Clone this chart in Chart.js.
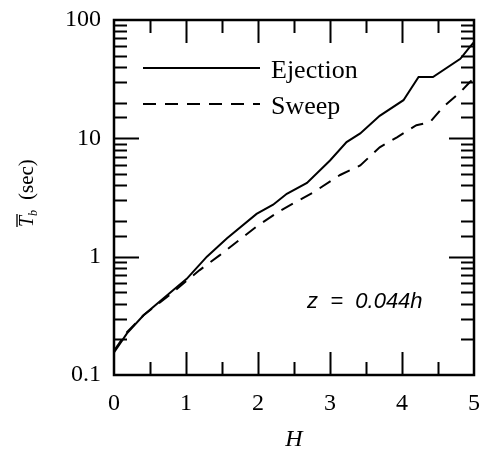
<!DOCTYPE html>
<html><head><meta charset="utf-8">
<style>html,body{margin:0;padding:0;background:#fff}#wrap{width:480px;height:450px}</style>
</head><body><div id="wrap"><canvas id="c" width="480" height="450"></canvas></div>
<script src="https://cdn.jsdelivr.net/npm/chart.js@4"></script>
<script>
// ---- data ----
const H_EJECTION = [0, 0.18, 0.41, 0.82, 1.01, 1.29, 1.57, 1.98, 2.21, 2.40, 2.68, 3.00, 3.23, 3.42, 3.69, 4.02, 4.23, 4.43, 4.81, 4.94, 5.00];
const T_EJECTION = [0.155, 0.225, 0.32, 0.52, 0.65, 1.0, 1.43, 2.3, 2.75, 3.4, 4.2, 6.5, 9.3, 11, 15.5, 21, 33, 33, 47, 59, 65];
const H_SWEEP = [0, 0.18, 0.41, 0.82, 1.00, 1.19, 1.47, 1.98, 2.31, 2.77, 3.14, 3.42, 3.69, 3.93, 4.20, 4.39, 4.57, 4.81, 4.94, 5.00];
const T_SWEEP = [0.16, 0.23, 0.32, 0.5, 0.62, 0.77, 1.03, 1.8, 2.45, 3.5, 4.9, 5.9, 8.4, 10.2, 12.9, 13.7, 18.4, 24.6, 29.8, 32];
const SERIES_LABELS = ['Ejection', 'Sweep'];
const X_TICKS = [0, 1, 2, 3, 4, 5];
const Y_TICK_LABELS = ['0.1', '1', '10', '100'];
const ANNOTATION = 'z  =  0.044h';

const toPts = (xs, ys) => xs.map((x, i) => ({x, y: ys[i]}));
const SERIF = '"Liberation Serif", "Times New Roman", serif';

const decoPlugin = {
  id: 'deco',
  afterDraw(chart) {
    const ctx = chart.ctx, ca = chart.chartArea;
    const xs = chart.scales.x, ys = chart.scales.y;
    ctx.save();
    ctx.strokeStyle = '#000'; ctx.fillStyle = '#000';
    // frame
    ctx.lineWidth = 2.5;
    ctx.strokeRect(ca.left, ca.top, ca.right - ca.left, ca.bottom - ca.top);
    // y ticks (inward, both sides)
    ctx.lineWidth = 2;
    ys.ticks.forEach(t => {
      const v = t.value;
      if (v <= ys.min || v >= ys.max) return;
      const major = Math.abs(Math.log10(v) - Math.round(Math.log10(v))) < 1e-6;
      const len = major ? 25 : 13;
      const py = Math.round(ys.getPixelForValue(v)) + 0.5;
      ctx.beginPath();
      ctx.moveTo(ca.left, py); ctx.lineTo(ca.left + len, py);
      ctx.moveTo(ca.right, py); ctx.lineTo(ca.right - len, py);
      ctx.stroke();
    });
    // x ticks (inward, top and bottom), majors at ticks, minors at midpoints
    const xt = xs.ticks.map(t => t.value);
    const marks = [];
    xt.forEach((v, i) => {
      marks.push([v, 23]);
      if (i < xt.length - 1) marks.push([(v + xt[i + 1]) / 2, 13]);
    });
    marks.forEach(([v, len]) => {
      if (v <= xs.min || v >= xs.max) return;
      const px = Math.round(xs.getPixelForValue(v)) + 0.5;
      ctx.beginPath();
      ctx.moveTo(px, ca.bottom); ctx.lineTo(px, ca.bottom - len);
      ctx.moveTo(px, ca.top); ctx.lineTo(px, ca.top + len);
      ctx.stroke();
    });
    // legend
    const legY = [68, 104];
    chart.data.datasets.forEach((ds, i) => {
      ctx.save();
      ctx.lineWidth = 2;
      ctx.setLineDash(ds.borderDash || []);
      ctx.beginPath();
      ctx.moveTo(143, legY[i]); ctx.lineTo(260, legY[i]);
      ctx.stroke();
      ctx.restore();
      ctx.font = '26px ' + SERIF;
      ctx.textAlign = 'left'; ctx.textBaseline = 'alphabetic';
      ctx.fillText(ds.label, 271, legY[i] + 10);
    });
    // annotation
    ctx.font = 'italic 22px "Liberation Sans", Arial, sans-serif';
    ctx.textAlign = 'left'; ctx.textBaseline = 'alphabetic';
    ctx.fillText(ANNOTATION, 307, 308);
    // x title
    ctx.font = 'italic 24px ' + SERIF;
    ctx.textAlign = 'center';
    ctx.fillText('H', (ca.left + ca.right) / 2, 446);
    // y title: T-bar sub b (sec)
    ctx.save();
    ctx.translate(33, 227);
    ctx.rotate(-Math.PI / 2);
    ctx.textAlign = 'left';
    ctx.font = 'italic 20px ' + SERIF;
    ctx.fillText('T', 0, 0);
    ctx.lineWidth = 1.3;
    ctx.beginPath(); ctx.moveTo(0, -16); ctx.lineTo(13, -16); ctx.stroke();
    ctx.font = 'italic 12px ' + SERIF;
    ctx.fillText('b', 11, 4);
    ctx.font = '21px ' + SERIF;
    ctx.fillText('(sec)', 27, 0);
    ctx.restore();
    ctx.restore();
  }
};

const zeroPad = s => { s.paddingTop = 0; s.paddingBottom = 0; s.paddingLeft = 0; s.paddingRight = 0; };

new Chart(document.getElementById('c'), {
  type: 'line',
  data: {
    datasets: [
      {label: SERIES_LABELS[0], data: toPts(H_EJECTION, T_EJECTION), borderColor: '#000', borderWidth: 2, pointRadius: 0, tension: 0, fill: false},
      {label: SERIES_LABELS[1], data: toPts(H_SWEEP, T_SWEEP), borderColor: '#000', borderWidth: 2, borderDash: [13, 9], pointRadius: 0, tension: 0, fill: false}
    ]
  },
  options: {
    responsive: false,
    animation: false,
    devicePixelRatio: 1,
    layout: {padding: {left: 0, right: 6, top: 20, bottom: 0}},
    plugins: {legend: {display: false}, tooltip: {enabled: false}},
    scales: {
      x: {
        type: 'linear', min: 0, max: 5,
        afterBuildTicks: s => { s.ticks = X_TICKS.map(v => ({value: v})); },
        ticks: {color: '#000', font: {family: SERIF, size: 24}, padding: 14, maxRotation: 0},
        grid: {display: false, drawTicks: false},
        border: {display: false},
        afterFit: s => { s.height = 75; zeroPad(s); }
      },
      y: {
        type: 'logarithmic', min: 0.1, max: 100,
        ticks: {
          color: '#000', font: {family: SERIF, size: 24}, padding: 13, autoSkip: false,
          callback: function (v) {
            const l = Math.log10(v);
            if (Math.abs(l - Math.round(l)) > 1e-6) return '';
            return Y_TICK_LABELS[Math.round(l) + 1];
          }
        },
        grid: {display: false, drawTicks: false},
        border: {display: false},
        afterFit: s => { s.width = 114; zeroPad(s); }
      }
    }
  },
  plugins: [decoPlugin]
});
</script>
</body></html>
